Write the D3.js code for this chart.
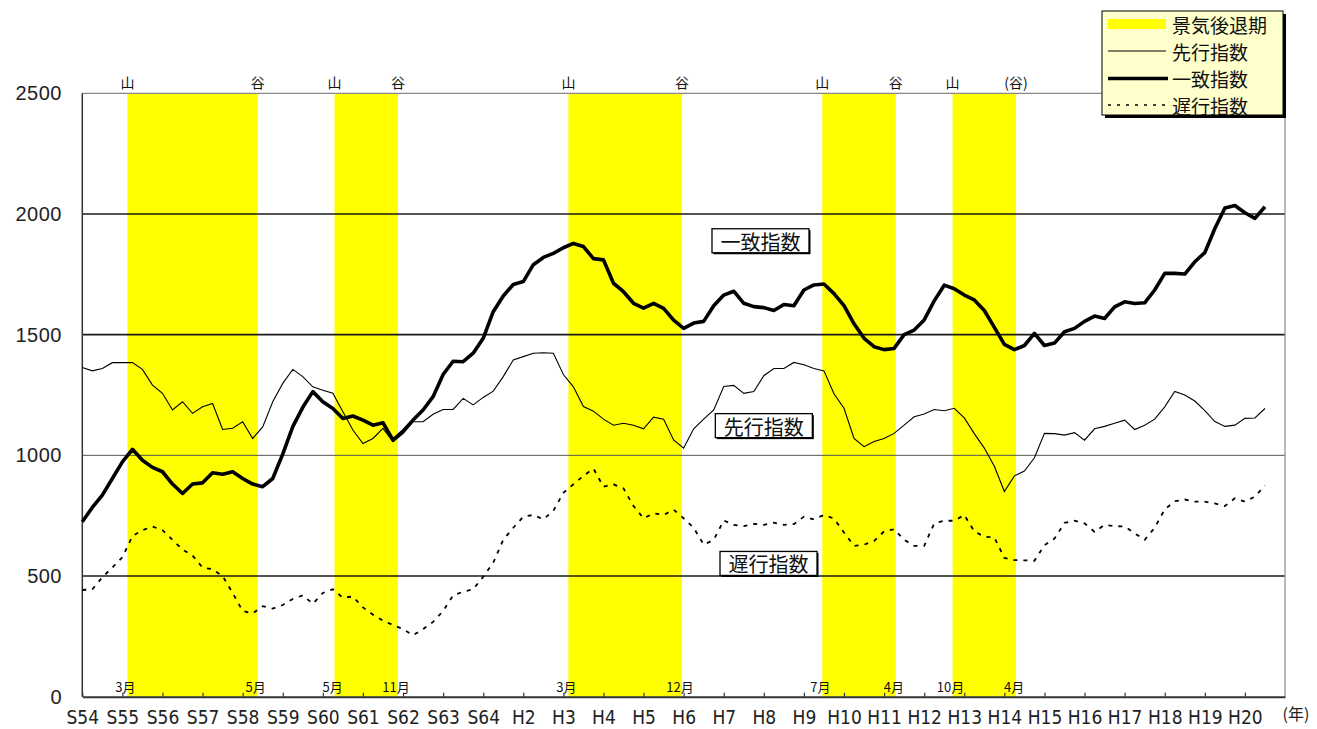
<!DOCTYPE html>
<html><head><meta charset="utf-8">
<script src="https://cdn.jsdelivr.net/npm/d3@7"></script>
<style>body{margin:0;background:#fff;} svg{display:block;}</style>
</head><body><svg id="c" width="1317" height="729"></svg>
<script>
// ---- data (quarterly readings, Jan 1979 start, step 3 months) ----
const yearLabels = ["S54","S55","S56","S57","S58","S59","S60","S61","S62","S63","S64",
  "H2","H3","H4","H5","H6","H7","H8","H9","H10","H11","H12","H13","H14","H15","H16","H17","H18","H19","H20"];
const yTicks = [0,500,1000,1500,2000,2500];
const coincident = [725,784,835,904,973,1025,980,950,932,881,842,881,886,928,922,932,904,881,870,904,
  1005,1119,1199,1264,1222,1194,1153,1163,1146,1125,1135,1063,1100,1146,1188,1243,1335,1390,1388,1423,
  1485,1595,1660,1708,1720,1790,1820,1837,1860,1878,1865,1815,1810,1713,1678,1630,1610,1630,1609,1560,
  1526,1548,1555,1620,1664,1680,1630,1616,1612,1600,1625,1620,1685,1706,1710,1670,1620,1545,1485,1450,
  1438,1443,1500,1519,1561,1640,1705,1690,1664,1644,1600,1530,1460,1438,1455,1505,1455,1465,1512,1526,
  1555,1577,1567,1615,1636,1629,1632,1685,1754,1754,1751,1802,1840,1940,2025,2035,2005,1982,2030];
const leading = [1364,1350,1360,1384,1384,1384,1356,1291,1257,1188,1222,1174,1201,1215,1107,1112,1139,1070,1118,1222,
  1298,1356,1326,1284,1270,1257,1181,1105,1049,1070,1112,1056,1090,1139,1139,1170,1190,1190,1236,1209,
  1240,1266,1326,1395,1409,1423,1425,1423,1335,1284,1202,1183,1150,1125,1133,1125,1110,1158,1150,1064,
  1030,1110,1150,1188,1285,1290,1257,1264,1330,1360,1360,1385,1375,1360,1350,1255,1195,1070,1036,1057,
  1070,1091,1125,1160,1171,1190,1185,1195,1155,1090,1030,955,850,915,935,990,1091,1090,1084,1094,
  1063,1110,1120,1133,1146,1107,1125,1150,1201,1265,1250,1225,1185,1140,1120,1125,1153,1155,1194];
const lagging = [442,445,495,535,578,665,690,705,690,650,610,585,535,528,500,430,355,345,375,365,
  380,405,420,385,430,445,410,415,370,340,315,297,280,255,280,310,355,420,435,445,
  497,555,650,700,746,753,735,770,845,880,915,945,870,880,863,790,739,760,753,775,
  739,700,630,650,730,712,707,716,712,721,712,715,746,735,753,738,680,625,630,645,
  685,694,650,625,625,718,729,729,753,685,663,660,575,566,565,563,628,655,720,729,
  718,683,712,707,705,677,650,700,776,810,817,808,808,801,790,822,808,829,875];
const recessions = [
  {from:[1980,3], to:[1983,5], fromLabel:"3月", toLabel:"5月", peak:"山", trough:"谷"},
  {from:[1985,5], to:[1986,11], fromLabel:"5月", toLabel:"11月", peak:"山", trough:"谷"},
  {from:[1991,3], to:[1993,12], fromLabel:"3月", toLabel:"12月", peak:"山", trough:"谷"},
  {from:[1997,7], to:[1999,4], fromLabel:"7月", toLabel:"4月", peak:"山", trough:"谷"},
  {from:[2000,10], to:[2002,4], fromLabel:"10月", toLabel:"4月", peak:"山", trough:"(谷)"}
];
const seriesNames = ["先行指数","一致指数","遅行指数"];
const seriesLabelAt = [[204,1121],[203,1887],[205.4,550]]; // [month index, value]
const legendNames = ["景気後退期","先行指数","一致指数","遅行指数"];

// ---- layout ----
const svg = d3.select("#c");
const L = 82.3, R = 1285, T = 93.3, B = 696.7;
const startYear = 1979;
const x = d3.scaleLinear().domain([0, 360]).range([L, R]);
const y = d3.scaleLinear().domain([0, 2500]).range([B, T]);
const mi = (ym) => (ym[0]-startYear)*12 + (ym[1]-1);
const jp = "'Noto Sans CJK JP','Noto Sans CJK SC',sans-serif";

// recession shading
svg.append("g").selectAll("rect").data(recessions).join("rect")
  .attr("x", d => x(mi(d.from)-0.5)).attr("y", T)
  .attr("width", d => x(mi(d.to)+0.5) - x(mi(d.from)-0.5)).attr("height", B-T)
  .attr("fill", "#FFFF00");

// gridlines
svg.append("g").selectAll("line").data(yTicks.filter(v => v>0 && v<2500)).join("line")
  .attr("x1", L).attr("x2", R).attr("y1", d => y(d)).attr("y2", d => y(d))
  .attr("stroke", d => d===1000 ? "#555" : "#1a1a1a")
  .attr("stroke-width", d => d===1000 ? 1 : 1.7);
// frame
svg.append("line").attr("x1",L).attr("x2",R).attr("y1",y(2500)).attr("y2",y(2500)).attr("stroke","#888").attr("stroke-width",1.2);
svg.append("line").attr("x1",R).attr("x2",R).attr("y1",T).attr("y2",B).attr("stroke","#888").attr("stroke-width",1.2);
svg.append("line").attr("x1",L).attr("x2",L).attr("y1",T).attr("y2",B).attr("stroke","#333").attr("stroke-width",1.5);

// x axis
const xAxis = d3.axisBottom(x)
  .tickValues(d3.range(0, yearLabels.length).map(i => i*12))
  .tickFormat((d,i) => yearLabels[i]).tickSizeInner(-4).tickSizeOuter(0).tickPadding(14);
const gx = svg.append("g").attr("transform", `translate(0,${B})`).call(xAxis);
gx.select(".domain").attr("stroke","#333").attr("stroke-width",2);
gx.selectAll(".tick line").attr("stroke","#333").attr("stroke-width",1.2);
gx.selectAll(".tick text").attr("font-family","'Liberation Sans Narrow','DejaVu Sans Condensed',sans-serif")
  .attr("font-size",19).attr("fill","#222");
svg.append("text").attr("x", 1296).attr("y", 713).attr("text-anchor","middle").attr("dominant-baseline","central")
  .attr("font-family", jp).attr("font-size",16).attr("fill","#222").text("(年)");

// y labels
svg.append("g").selectAll("text").data(yTicks).join("text")
  .attr("x", 62).attr("y", d => y(d)).attr("text-anchor","end").attr("dominant-baseline","central")
  .attr("font-family","'Liberation Sans',Arial,sans-serif").attr("font-size",20).attr("letter-spacing",0.5)
  .attr("fill","#222").text(d => d);

// series
const line = d3.line().x((d,i) => x(i*3)).y(d => y(d));
svg.append("path").datum(lagging).attr("d", line).attr("fill","none")
  .attr("stroke","#000").attr("stroke-width",1.8).attr("stroke-dasharray","4,6");
svg.append("path").datum(leading).attr("d", line).attr("fill","none")
  .attr("stroke","#000").attr("stroke-width",1.1);
svg.append("path").datum(coincident).attr("d", line).attr("fill","none")
  .attr("stroke","#000").attr("stroke-width",3.6).attr("stroke-linejoin","round");

// series label boxes
const lab = svg.append("g").selectAll("g").data(seriesNames).join("g")
  .attr("transform", (d,i) => `translate(${x(seriesLabelAt[i][0])},${y(seriesLabelAt[i][1])})`);
lab.append("rect").attr("x",-47).attr("y",-11).attr("width",97).attr("height",24).attr("fill","#000");
lab.append("rect").attr("x",-48.5).attr("y",-12.5).attr("width",97).attr("height",24)
  .attr("fill","#fff").attr("stroke","#000").attr("stroke-width",1.3);
lab.append("text").attr("x",0).attr("y",0).attr("text-anchor","middle").attr("dominant-baseline","central")
  .attr("font-family", jp).attr("font-size",20).attr("fill","#111").text(d => d);

// peak/trough labels
const tops = [];
recessions.forEach(r => {
  tops.push({m: mi(r.from)-0.5, t: r.peak, b: r.fromLabel});
  tops.push({m: mi(r.to)+0.5, t: r.trough, b: r.toLabel});
});
svg.append("g").selectAll("text").data(tops).join("text")
  .attr("x", d => x(d.m)).attr("y", 82).attr("text-anchor","middle").attr("dominant-baseline","central")
  .attr("font-family", jp).attr("font-size",14).attr("fill","#111").text(d => d.t);
svg.append("g").selectAll("text").data(tops).join("text")
  .attr("x", d => x(d.m) - 2).attr("y", 686).attr("text-anchor","middle").attr("dominant-baseline","central")
  .attr("font-family", jp).attr("font-size",13).attr("fill","#111").text(d => d.b);

// legend
const lg = svg.append("g").attr("transform","translate(1102,11)");
lg.append("rect").attr("x",3).attr("y",3).attr("width",181).attr("height",104).attr("fill","#000");
lg.append("rect").attr("x",0).attr("y",0).attr("width",181).attr("height",104)
  .attr("fill","#FFFFCC").attr("stroke","#000").attr("stroke-width",1);
const rows = [13, 40, 67.5, 94];
lg.append("rect").attr("x",6).attr("y",rows[0]-5).attr("width",58).attr("height",10).attr("fill","#FFFF00");
lg.append("line").attr("x1",6).attr("x2",64).attr("y1",rows[1]).attr("y2",rows[1]).attr("stroke","#000").attr("stroke-width",1.1);
lg.append("line").attr("x1",6).attr("x2",66).attr("y1",rows[2]).attr("y2",rows[2]).attr("stroke","#000").attr("stroke-width",3.6);
lg.append("line").attr("x1",6).attr("x2",64).attr("y1",rows[3]).attr("y2",rows[3]).attr("stroke","#000").attr("stroke-width",1.5).attr("stroke-dasharray","3,6");
lg.selectAll("text.l").data(legendNames).join("text").attr("class","l")
  .attr("x",70).attr("y",(d,i) => rows[i]).attr("dominant-baseline","central")
  .attr("font-family", jp).attr("font-size",19).attr("fill","#111").text(d => d);
</script>
</body></html>
